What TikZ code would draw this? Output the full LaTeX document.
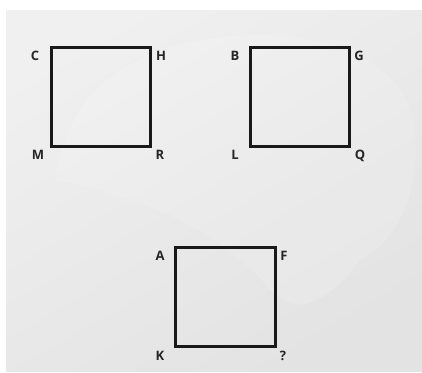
\documentclass[tikz,border=0pt]{standalone}
\usepackage{fontspec}
\setmainfont{Open Sans}
\begin{document}
\begin{tikzpicture}[x=1pt,y=-1pt,
  sq/.style={draw=black!90,line width=3pt},
  lbl/.style={font=\fontsize{13}{15}\selectfont\bfseries,text=black!85,inner sep=0pt,anchor=center}]
\useasboundingbox (0,0) rectangle (422,372);
\fill[white] (0,0) rectangle (422,372);
\shade[left color=gray!12,right color=gray!22,shading angle=30] (6,10) rectangle (422,371);
\fill[white,opacity=0.12] (55,180) .. controls (70,60) and (180,35) .. (260,35)
  .. controls (340,35) and (410,70) .. (415,130)
  .. controls (420,190) and (400,240) .. (360,260)
  .. controls (330,300) and (300,320) .. (270,290)
  .. controls (220,230) and (150,200) .. (55,180) -- cycle;
% squares
\draw[sq] (51,47) rectangle (150,146);
\draw[sq] (250,47) rectangle (349,146);
\draw[sq] (175,247) rectangle (275,346);
% labels
\node[lbl] (C) at (35,56) {C};
\node[lbl] (H) at (161,56) {H};
\node[lbl] (M) at (38,155) {M};
\node[lbl] (R) at (160,155) {R};
\node[lbl] (B) at (235,56) {B};
\node[lbl] (G) at (359,56) {G};
\node[lbl] (L) at (235,155) {L};
\node[lbl] (Q) at (360,156) {Q};
\node[lbl] (A) at (160,256) {A};
\node[lbl] (F) at (284,256) {F};
\node[lbl] (K) at (160,356) {K};
\node[lbl] (qm) at (283,356) {?};
\end{tikzpicture}
\end{document}
